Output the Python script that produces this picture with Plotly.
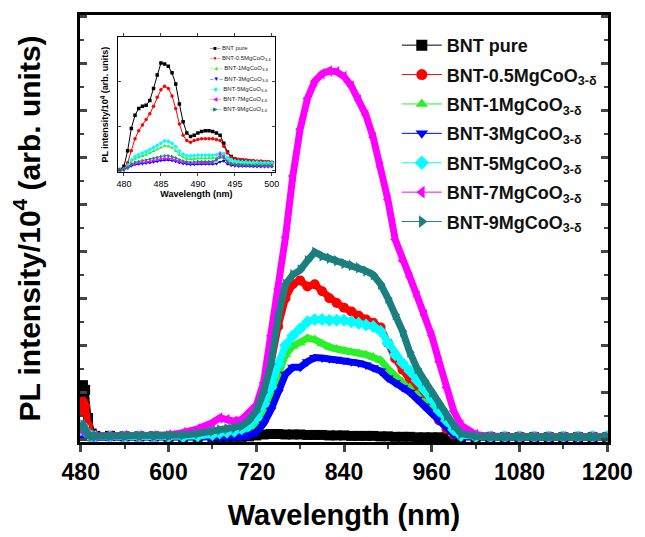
import plotly.graph_objects as go

FONT = "Liberation Sans, Arial, sans-serif"

# ---------------- main panel data (PL intensity / 1e4, arb. units) ----------------
wavelength = [480, 483, 486, 490, 495, 500, 520, 540, 560, 580, 600, 620, 640, 660, 670, 680, 690,
              700, 710, 720, 730, 740, 750, 760, 770, 780, 790, 800, 810, 820, 830, 840, 850, 860,
              870, 880, 890, 900, 910, 920, 930, 940, 950, 960, 970, 980, 990, 1000,
              1020, 1040, 1060, 1080, 1100, 1120, 1140, 1160, 1180, 1200]

bnt_pure = [0.95, 1.15, 1.05, 0.45, 0.12, 0.07, 0.07, 0.06, 0.06, 0.06, 0.05, 0.05, 0.05, 0.05, 0.05, 0.05, 0.05,
            0.05, 0.06, 0.08, 0.10, 0.11, 0.11, 0.10, 0.10, 0.10, 0.09, 0.09, 0.09, 0.08, 0.08, 0.08, 0.07, 0.07,
            0.07, 0.07, 0.06, 0.06, 0.05, 0.05, 0.05, 0.04, 0.04, 0.04, 0.04, 0.04, 0.04, 0.04,
            0.04, 0.04, 0.04, 0.04, 0.04, 0.04, 0.04, 0.04, 0.04, 0.04]
bnt_05 = [0.60, 0.80, 0.70, 0.30, 0.10, 0.06, 0.06, 0.06, 0.05, 0.05, 0.05, 0.06, 0.08, 0.12, 0.15, 0.17, 0.20,
          0.25, 0.38, 0.60, 1.00, 1.60, 2.40, 3.00, 3.30, 3.38, 3.25, 3.30, 3.15, 3.00, 2.90, 2.80, 2.72, 2.63,
          2.55, 2.48, 2.38, 2.05, 1.72, 1.48, 1.27, 1.05, 0.83, 0.60, 0.40, 0.22, 0.10, 0.06,
          0.05, 0.05, 0.05, 0.05, 0.05, 0.05, 0.05, 0.05, 0.05, 0.05]
bnt_1 = [0.12, 0.15, 0.12, 0.07, 0.05, 0.05, 0.05, 0.05, 0.05, 0.05, 0.05, 0.05, 0.05, 0.07, 0.08, 0.09, 0.10,
         0.13, 0.20, 0.32, 0.55, 0.90, 1.35, 1.80, 1.98, 2.05, 2.15, 2.12, 2.03, 1.96, 1.92, 1.88, 1.85, 1.83,
         1.80, 1.75, 1.68, 1.50, 1.35, 1.22, 1.10, 0.95, 0.78, 0.60, 0.45, 0.28, 0.12, 0.06,
         0.05, 0.05, 0.05, 0.05, 0.05, 0.05, 0.05, 0.05, 0.05, 0.05]
bnt_3 = [0.08, 0.10, 0.08, 0.05, 0.04, 0.04, 0.04, 0.04, 0.04, 0.04, 0.04, 0.04, 0.04, 0.04, 0.04, 0.04, 0.04,
         0.05, 0.08, 0.15, 0.33, 0.62, 1.00, 1.38, 1.53, 1.53, 1.65, 1.74, 1.73, 1.71, 1.70, 1.68, 1.65, 1.62,
         1.58, 1.52, 1.45, 1.30, 1.20, 1.10, 1.00, 0.85, 0.70, 0.55, 0.40, 0.25, 0.10, 0.05,
         0.04, 0.04, 0.04, 0.04, 0.04, 0.04, 0.04, 0.04, 0.04, 0.04]
bnt_5 = [0.20, 0.28, 0.18, 0.10, 0.06, 0.05, 0.05, 0.05, 0.05, 0.05, 0.05, 0.05, 0.07, 0.10, 0.13, 0.15, 0.17,
         0.22, 0.30, 0.45, 0.75, 1.10, 1.60, 2.00, 2.20, 2.35, 2.50, 2.55, 2.55, 2.53, 2.53, 2.53, 2.50, 2.47,
         2.43, 2.40, 2.30, 2.05, 1.80, 1.62, 1.45, 1.25, 1.05, 0.85, 0.60, 0.40, 0.20, 0.08,
         0.05, 0.05, 0.05, 0.05, 0.05, 0.05, 0.05, 0.05, 0.05, 0.05]
bnt_7 = [0.20, 0.25, 0.18, 0.08, 0.06, 0.06, 0.07, 0.08, 0.07, 0.07, 0.09, 0.14, 0.22, 0.35, 0.45, 0.42, 0.38,
         0.42, 0.55, 0.72, 1.20, 2.20, 3.20, 4.30, 5.60, 6.60, 7.25, 7.62, 7.78, 7.84, 7.82, 7.72, 7.52, 7.22,
         6.90, 6.42, 5.80, 5.10, 4.25, 3.80, 3.45, 3.05, 2.65, 2.20, 1.65, 1.10, 0.60, 0.30,
         0.10, 0.06, 0.05, 0.05, 0.05, 0.05, 0.05, 0.05, 0.05, 0.05]
bnt_9 = [0.25, 0.30, 0.20, 0.10, 0.06, 0.06, 0.06, 0.06, 0.06, 0.06, 0.07, 0.09, 0.12, 0.17, 0.20, 0.22, 0.24,
         0.28, 0.40, 0.60, 1.00, 1.60, 2.60, 3.30, 3.50, 3.60, 3.80, 3.98, 3.90, 3.85, 3.80, 3.74, 3.70, 3.65,
         3.58, 3.50, 3.30, 3.00, 2.65, 2.30, 1.85, 1.50, 1.25, 1.00, 0.75, 0.50, 0.30, 0.12,
         0.06, 0.05, 0.05, 0.05, 0.05, 0.05, 0.05, 0.05, 0.05, 0.05]

# ---------------- inset data (479-500 nm) ----------------
inset_wavelength = [479.0, 479.5, 480.0, 480.5, 481.0, 481.5, 482.0, 482.5, 483.0, 483.5,
                    484.0, 484.5, 485.0, 485.5, 486.0, 486.5, 487.0, 487.5, 488.0, 488.5,
                    489.0, 489.5, 490.0, 490.5, 491.0, 491.5, 492.0, 492.5, 493.0, 493.5,
                    494.0, 494.5, 495.0, 495.5, 496.0, 496.5, 497.0, 497.5, 498.0, 498.5,
                    499.0, 499.5, 500.0]
inset_pure = [0.02, 0.03, 0.10, 0.45, 0.95, 1.25, 1.40, 1.45, 1.47, 1.58,
              1.85, 2.15, 2.42, 2.40, 2.35, 2.20, 1.95, 1.50, 1.10, 0.85,
              0.77, 0.80, 0.85, 0.88, 0.90, 0.90, 0.88, 0.85, 0.80, 0.62,
              0.42, 0.32, 0.27, 0.25, 0.24, 0.23, 0.22, 0.21, 0.20, 0.20,
              0.19, 0.19, 0.18]
inset_05 = [0.01, 0.02, 0.05, 0.18, 0.45, 0.72, 0.90, 1.03, 1.15, 1.28,
            1.45, 1.65, 1.82, 1.90, 1.85, 1.68, 1.40, 1.05, 0.80, 0.68,
            0.64, 0.68, 0.70, 0.72, 0.72, 0.72, 0.72, 0.70, 0.68, 0.55,
            0.40, 0.30, 0.27, 0.26, 0.25, 0.24, 0.23, 0.23, 0.22, 0.22,
            0.21, 0.21, 0.20]
inset_1 = [0.00, 0.01, 0.03, 0.10, 0.20, 0.27, 0.30, 0.33, 0.36, 0.40,
           0.44, 0.48, 0.52, 0.56, 0.55, 0.52, 0.45, 0.36, 0.30, 0.27,
           0.26, 0.27, 0.28, 0.28, 0.28, 0.28, 0.28, 0.29, 0.33, 0.32,
           0.25, 0.20, 0.18, 0.17, 0.16, 0.16, 0.15, 0.15, 0.15, 0.14,
           0.14, 0.14, 0.14]
inset_3 = [0.00, 0.01, 0.02, 0.06, 0.11, 0.14, 0.15, 0.16, 0.17, 0.18,
           0.20, 0.21, 0.23, 0.24, 0.24, 0.23, 0.21, 0.18, 0.16, 0.15,
           0.14, 0.14, 0.15, 0.15, 0.15, 0.15, 0.15, 0.16, 0.20, 0.22,
           0.15, 0.12, 0.11, 0.10, 0.10, 0.10, 0.10, 0.09, 0.09, 0.09,
           0.09, 0.09, 0.09]
inset_5 = [0.00, 0.01, 0.03, 0.12, 0.24, 0.32, 0.36, 0.40, 0.43, 0.47,
           0.52, 0.57, 0.62, 0.67, 0.66, 0.62, 0.54, 0.44, 0.37, 0.34,
           0.33, 0.34, 0.35, 0.35, 0.35, 0.35, 0.35, 0.36, 0.40, 0.38,
           0.30, 0.25, 0.22, 0.21, 0.20, 0.20, 0.19, 0.19, 0.19, 0.18,
           0.18, 0.18, 0.18]
inset_7 = [0.00, 0.01, 0.02, 0.07, 0.13, 0.16, 0.18, 0.19, 0.20, 0.21,
           0.23, 0.25, 0.27, 0.28, 0.28, 0.27, 0.24, 0.21, 0.19, 0.18,
           0.17, 0.17, 0.18, 0.18, 0.18, 0.18, 0.19, 0.25, 0.38, 0.32,
           0.20, 0.15, 0.13, 0.12, 0.12, 0.12, 0.11, 0.11, 0.11, 0.11,
           0.10, 0.10, 0.10]
inset_9 = [0.00, 0.01, 0.03, 0.09, 0.15, 0.19, 0.21, 0.23, 0.24, 0.26,
           0.28, 0.30, 0.32, 0.34, 0.34, 0.32, 0.29, 0.25, 0.22, 0.20,
           0.19, 0.20, 0.21, 0.21, 0.21, 0.21, 0.21, 0.24, 0.30, 0.28,
           0.20, 0.16, 0.14, 0.14, 0.13, 0.13, 0.13, 0.12, 0.12, 0.12,
           0.12, 0.12, 0.12]

series_names = ["BNT pure", "BNT-0.5MgCoO<sub>3-δ</sub>", "BNT-1MgCoO<sub>3-δ</sub>",
                "BNT-3MgCoO<sub>3-δ</sub>", "BNT-5MgCoO<sub>3-δ</sub>", "BNT-7MgCoO<sub>3-δ</sub>",
                "BNT-9MgCoO<sub>3-δ</sub>"]
main_values = [bnt_pure, bnt_05, bnt_1, bnt_3, bnt_5, bnt_7, bnt_9]
inset_values = [inset_pure, inset_05, inset_1, inset_3, inset_5, inset_7, inset_9]
colors = ["#000000", "#FF0000", "#2AF02A", "#0000FF", "#00FFFF", "#FF00FF", "#1B7F7F"]
symbols = ["square", "circle", "triangle-up", "triangle-down", "diamond", "triangle-left", "triangle-right"]
glyphs = ["■", "●", "▲", "▼", "◆", "◀", "▶"]

fig = go.Figure()

# main thick bands
for name, vals, c, s in zip(series_names, main_values, colors, symbols):
    fig.add_trace(go.Scatter(x=wavelength, y=vals, mode="lines+markers", showlegend=False,
                             line=dict(color=c, width=7), marker=dict(color=c, symbol=s, size=10),
                             xaxis="x", yaxis="y"))

# legend entries
for i, (name, c, s) in enumerate(zip(series_names, colors, symbols)):
    fig.add_trace(go.Scatter(x=[None], y=[None], mode="lines+markers", name=name,
                             legendgroup=f"g{i}", line=dict(color=c, width=1),
                             marker=dict(color=c, symbol=s, size=11), xaxis="x", yaxis="y"))

# inset traces
for name, vals, c, s in zip(series_names, inset_values, colors, symbols):
    fig.add_trace(go.Scatter(x=inset_wavelength, y=vals, mode="lines+markers", showlegend=False,
                             line=dict(color=c, width=1), marker=dict(color=c, symbol=s, size=3.5),
                             xaxis="x2", yaxis="y2"))

# inset legend (text annotations)
for i, (name, c, g) in enumerate(zip(series_names, colors, glyphs)):
    fig.add_annotation(xref="paper", yref="paper", x=0.2424, y=(434 - (40.5 + 10.2 * i)) / 427,
                       xanchor="left", yanchor="middle", showarrow=False,
                       text=f"<span style='color:{c}'>–{g}–</span> {name}",
                       font=dict(family=FONT, size=6, color="#222"))

fig.update_layout(
    width=645, height=537,
    margin=dict(l=72, r=45, t=7, b=103),
    paper_bgcolor="white", plot_bgcolor="white",
    font=dict(family=FONT, color="black"),
    legend=dict(x=0.60, y=0.972, xanchor="left", yanchor="top", bgcolor="rgba(0,0,0,0)",
                font=dict(family=FONT, size=18, weight="bold", color="#111"),
                itemwidth=40, tracegroupgap=3),
    xaxis=dict(range=[479, 1201], tick0=480, dtick=120, ticks="outside", ticklen=7, tickwidth=2.5,
               minor=dict(dtick=60, ticks="outside", ticklen=4, tickwidth=2),
               showline=True, linewidth=3, linecolor="black", mirror=True,
               showgrid=False, zeroline=False,
               tickfont=dict(family=FONT, size=23, weight="bold"),
               title=dict(text="Wavelength (nm)", font=dict(family=FONT, size=29, weight="bold"), standoff=22),
               automargin=False),
    xaxis3=dict(range=[479, 1201], tick0=480, dtick=120, overlaying="x", side="top", anchor="y",
                ticks="inside", ticklen=6, tickwidth=2, showticklabels=False,
                minor=dict(dtick=60, ticks="inside", ticklen=3, tickwidth=2),
                showline=False, showgrid=False, zeroline=False),
    yaxis=dict(range=[-0.06, 9.03], tick0=0, dtick=1, ticks="inside", ticklen=7, tickwidth=2.5,
               minor=dict(dtick=0.5, ticks="inside", ticklen=4, tickwidth=2),
               showticklabels=False, showline=True, linewidth=3, linecolor="black", mirror="ticks",
               showgrid=False, zeroline=False,
               title=dict(text="PL intensity/10<sup>4</sup> (arb. units)",
                          font=dict(family=FONT, size=30, weight="bold"), standoff=30),
               automargin=False),
    xaxis2=dict(domain=[0.072, 0.369], anchor="y2", range=[479.2, 500.4], tick0=480, dtick=5,
                ticks="outside", ticklen=3, tickwidth=1, showline=True, linewidth=1, linecolor="black",
                mirror="ticks", showgrid=False, zeroline=False,
                tickfont=dict(family=FONT, size=9),
                title=dict(text="Wavelength (nm)", font=dict(family=FONT, size=9, weight="bold"), standoff=2),
                automargin=False),
    yaxis2=dict(domain=[0.632, 0.948], anchor="x2", range=[-0.03, 3.0], dtick=1, ticks="inside",
                ticklen=3, tickwidth=1, showticklabels=False, showline=True, linewidth=1,
                linecolor="black", mirror="ticks", showgrid=False, zeroline=False,
                title=dict(text="PL intensity/10<sup>4</sup> (arb. units)",
                           font=dict(family=FONT, size=9, weight="bold"), standoff=6),
                automargin=False),
)

fig.write_html("out.html")
